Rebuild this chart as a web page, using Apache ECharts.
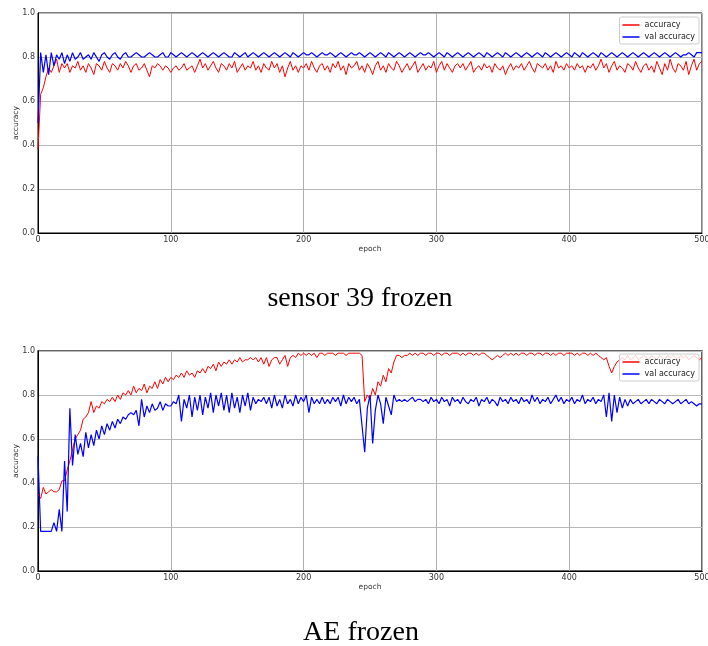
<!DOCTYPE html>
<html>
<head>
<meta charset="utf-8">
<script src="https://cdn.jsdelivr.net/npm/echarts@6/dist/echarts.min.js"></script>
<style>
  html, body { margin: 0; padding: 0; background: #fff; }
  #chart { width: 708px; height: 646px; }
</style>
</head>
<body>
<div id="chart"></div>
<script>
// values in percent, one point every 2 epochs (0, 2, ..., 500)
const epochStep = 2
const xTicks = [0, 100, 200, 300, 400, 500]

const sensorAcc = [
  38, 63, 66, 71, 75, 73, 76, 79, 73, 77,
  75, 77, 73, 76, 75, 78, 74, 76, 73, 77,
  75, 72, 77, 76, 74, 78, 75, 73, 77, 76,
  74, 77, 75, 78, 76, 73, 76, 77, 74, 75,
  77, 74, 71, 76, 75, 77, 76, 74, 76, 75,
  73, 75, 76, 74, 75, 77, 74, 75, 76, 73,
  76, 79, 75, 77, 74, 76, 78, 75, 73, 77,
  76, 74, 77, 75, 78, 73, 75, 77, 74, 76,
  75, 78, 74, 76, 73, 77, 75, 74, 78, 75,
  77, 73, 76, 71, 75, 78, 74, 76, 73, 76,
  75, 77, 74, 78, 75, 73, 76, 77, 74, 76,
  73, 77, 75, 78, 74, 76, 72, 77, 75, 76,
  78, 74, 76, 73, 77, 75, 72, 76, 78, 74,
  76, 73, 77, 75, 74, 78, 76, 73, 75, 77,
  74, 76, 78, 73, 75, 77, 74, 76, 75, 78,
  73, 76, 78, 74, 77, 75, 73, 76, 77, 75,
  77, 74, 76, 78, 73, 75, 76, 74, 77, 75,
  76, 73, 77, 75, 74, 76, 72, 75, 77, 74,
  76, 75, 77, 74, 76, 78, 75, 73, 77, 76,
  75, 77, 74, 76, 73, 78, 75, 76, 74, 77,
  75, 76, 74, 77, 75, 76, 73, 76, 75, 77,
  74, 76, 79, 75, 77, 73, 76, 78, 74, 76,
  75, 73, 77, 76, 74, 78, 75, 73, 76, 77,
  74, 76, 73, 78, 75, 72, 77, 74, 79, 75,
  73, 77, 76, 74, 78, 72, 76, 79, 74, 77,
  78
]
const sensorVal = [
  50, 82, 73, 81, 72, 82, 76, 81, 79, 82,
  77, 81, 78, 82, 79, 80, 82, 79, 80, 81,
  79, 82, 80, 78, 81, 82, 80, 79, 81, 82,
  80, 79, 81, 82, 80, 80, 81, 82, 81, 80,
  80, 81, 82, 81, 80, 80, 81, 82, 80, 80,
  82, 81, 80, 81, 82, 81, 80, 81, 82, 81,
  80, 81, 82, 81, 80, 81, 82, 81, 80, 81,
  82, 81, 80, 80, 82, 81, 80, 81, 82, 80,
  81, 82, 81, 80, 81, 82, 81, 80, 81, 82,
  81, 80, 81, 82, 81, 80, 82, 81, 80, 81,
  82, 81, 81, 82, 81, 80, 81, 82, 81, 81,
  82, 81, 80, 81, 82, 81, 80, 81, 82, 81,
  81, 82, 81, 80, 81, 82, 81, 80, 81, 82,
  81, 80, 82, 81, 80, 81, 82, 81, 80, 81,
  82, 81, 80, 81, 82, 81, 81, 82, 81, 80,
  81, 82, 81, 80, 82, 81, 80, 81, 82, 81,
  80, 81, 82, 81, 80, 81, 82, 81, 80, 82,
  81, 80, 81, 82, 81, 80, 82, 81, 80, 81,
  82, 81, 80, 81, 82, 81, 80, 81, 82, 81,
  80, 82, 81, 80, 81, 82, 81, 80, 81, 82,
  81, 80, 82, 81, 80, 82, 81, 80, 81, 82,
  81, 80, 82, 81, 80, 81, 82, 81, 80, 81,
  82, 81, 80, 81, 82, 81, 80, 81, 82, 81,
  80, 81, 82, 81, 80, 81, 82, 81, 80, 81,
  82, 81, 80, 81, 81, 82, 81, 80, 82, 82,
  82
]
const aeAcc = [
  35, 33, 38, 35, 36, 37, 36, 36, 37, 41,
  41, 46, 50, 55, 60, 62, 64, 69, 70, 72,
  77, 72, 75, 74, 77, 76, 78, 77, 79, 77,
  80, 78, 81, 80, 82, 80, 84, 81, 83, 82,
  85, 81, 84, 83, 86, 83, 87, 85, 88, 86,
  88, 87, 89, 88, 90, 88, 91, 89, 90, 88,
  91, 90, 92, 90, 93, 92, 94, 91, 95, 93,
  95, 94, 96, 94, 96, 95, 97, 95, 96, 96,
  97, 96, 97, 95, 97, 94, 97, 93, 96, 97,
  97, 94, 96, 98, 93, 97, 98, 97, 99, 98,
  99, 98, 99, 98, 99, 97, 99, 99, 98, 99,
  99, 99, 98, 99, 99, 99, 98, 99, 99, 99,
  99, 99, 98, 77, 80, 78, 83, 80, 86, 84,
  89, 86, 92, 90, 95, 98, 98, 97, 98, 98,
  99, 98, 99, 98, 99, 99, 98, 99, 99, 98,
  99, 99, 98, 99, 99, 98, 99, 99, 99, 98,
  99, 98, 99, 99, 98, 99, 98, 99, 99, 98,
  97, 96, 97, 98, 97, 98, 99, 98, 99, 98,
  99, 98, 99, 99, 98, 99, 99, 98, 99, 99,
  98, 99, 99, 98, 99, 98, 99, 99, 98, 99,
  99, 99, 98, 99, 98, 99, 99, 98, 99, 98,
  99, 98, 97, 96, 97, 93, 90, 93, 95, 96,
  97, 96, 98, 96, 97, 98, 96, 97, 98, 97,
  96, 98, 97, 96, 98, 97, 96, 98, 97, 98,
  97, 96, 98, 97, 98, 96, 97, 98, 97, 96,
  97
]
const aeVal = [
  52, 18, 18, 18, 18, 18, 22, 18, 28, 18,
  50, 27, 74, 48, 62, 53, 58, 52, 63, 56,
  62, 57, 64, 60, 66, 62, 67, 64, 68, 65,
  69, 67, 70, 69, 71, 72, 71, 73, 66, 78,
  70, 75, 72, 76, 73, 74, 77, 73, 76, 75,
  75, 77, 76, 80, 68, 78, 74, 80, 70, 79,
  73, 80, 71, 79, 74, 81, 72, 80, 75, 81,
  73, 80, 72, 81, 74, 79, 72, 80, 75, 81,
  73, 79, 76, 78, 77, 79, 76, 79, 74, 80,
  75, 78, 74, 80, 76, 78, 75, 80, 76, 79,
  77, 80, 72, 79, 76, 78, 76, 79, 76, 78,
  76, 79, 77, 79, 75, 80, 76, 79, 77, 79,
  76, 78, 66, 54, 74, 80, 58, 73, 80, 76,
  67, 79, 75, 71, 80, 77, 78, 77, 78, 77,
  78, 79, 77, 78, 78, 77, 78, 76, 79, 77,
  78, 76, 79, 77, 78, 75, 79, 77, 78, 76,
  79, 77, 76, 78, 77, 79, 75, 78, 77, 79,
  76, 78, 77, 75, 79, 77, 78, 76, 79, 77,
  78, 76, 79, 77, 78, 76, 80, 77, 79, 76,
  78, 77, 79, 76, 78, 80, 77, 79, 76, 78,
  77, 79, 76, 78, 77, 80, 76, 78, 77, 79,
  76, 78, 77, 80, 70, 81, 68, 80, 72, 79,
  74, 78, 75, 78, 76, 77, 78, 76, 77, 78,
  76, 78, 77, 76, 78, 77, 76, 78, 77, 76,
  77, 78, 76, 77, 78, 76, 77, 76, 75, 76,
  76
]

const toPairs = arr => arr.map((v, i) => [i * epochStep, v / 100])

const labelFont = { fontSize: 8, color: '#333', fontFamily: 'DejaVu Sans' }
const nameFont = { fontSize: 7.5, color: '#333', fontFamily: 'DejaVu Sans' }

function makeXAxis (gridIndex) {
  return {
    gridIndex: gridIndex,
    type: 'value',
    min: xTicks[0],
    max: xTicks[xTicks.length - 1],
    interval: 100,
    name: 'epoch',
    nameLocation: 'middle',
    nameGap: 12,
    nameMoveOverlap: false,
    nameTextStyle: nameFont,
    axisLine: { lineStyle: { color: '#000', width: 1 } },
    axisTick: { show: false },
    axisLabel: Object.assign({ margin: 3 }, labelFont),
    splitLine: { show: true, lineStyle: { color: '#b0b0b0', width: 1 } }
  }
}

function makeYAxis (gridIndex) {
  return {
    gridIndex: gridIndex,
    type: 'value',
    min: 0,
    max: 1,
    interval: 0.2,
    name: 'accuracy',
    nameLocation: 'middle',
    nameGap: 18,
    nameMoveOverlap: false,
    nameTextStyle: nameFont,
    axisLine: { show: true, lineStyle: { color: '#000', width: 1 } },
    axisTick: { show: false },
    axisLabel: Object.assign({ margin: 3, formatter: v => v.toFixed(1) }, labelFont),
    splitLine: { show: true, lineStyle: { color: '#b8b8b8', width: 1 } }
  }
}

function makeLegend (top) {
  return {
    orient: 'vertical',
    right: 9,
    top: top,
    data: ['accuracy', 'val accuracy'],
    icon: 'rect',
    itemWidth: 17,
    itemHeight: 1.5,
    itemGap: 4,
    padding: [4, 4, 3, 3],
    backgroundColor: 'rgba(255,255,255,0.8)',
    borderColor: '#cccccc',
    borderWidth: 1,
    borderRadius: 2,
    textStyle: { fontSize: 8, color: '#222', fontFamily: 'DejaVu Sans' }
  }
}

function makeLine (name, data, color, idx, width) {
  return {
    name: name,
    type: 'line',
    xAxisIndex: idx,
    yAxisIndex: idx,
    data: toPairs(data),
    showSymbol: false,
    silent: true,
    animation: false,
    lineStyle: { color: color, width: width },
    itemStyle: { color: color }
  }
}

const chart = echarts.init(document.getElementById('chart'))
chart.setOption({
  backgroundColor: '#fff',
  animation: false,
  grid: [
    { left: 38, right: 6, top: 13, height: 220, outerBoundsMode: 'none', show: true, borderColor: '#000', borderWidth: 1 },
    { left: 38, right: 6, top: 351, height: 220, outerBoundsMode: 'none', show: true, borderColor: '#333', borderWidth: 1.5 }
  ],
  xAxis: [makeXAxis(0), makeXAxis(1)],
  yAxis: [makeYAxis(0), makeYAxis(1)],
  legend: [makeLegend(17), makeLegend(354)],
  series: [
    makeLine('accuracy', sensorAcc, '#ff0000', 0, 1),
    makeLine('val accuracy', sensorVal, '#0000ff', 0, 1.2),
    makeLine('accuracy', aeAcc, '#ff0000', 1, 1),
    makeLine('val accuracy', aeVal, '#0000ff', 1, 1.2)
  ],
  graphic: [
    {
      type: 'text',
      x: 360,
      y: 298.5,
      style: { text: 'sensor 39 frozen', fontSize: 28, fontFamily: 'Liberation Serif', fill: '#000', align: 'center', verticalAlign: 'middle' }
    },
    {
      type: 'text',
      x: 361,
      y: 632.5,
      style: { text: 'AE frozen', fontSize: 28, fontFamily: 'Liberation Serif', fill: '#000', align: 'center', verticalAlign: 'middle' }
    }
  ]
})
</script>
</body>
</html>
